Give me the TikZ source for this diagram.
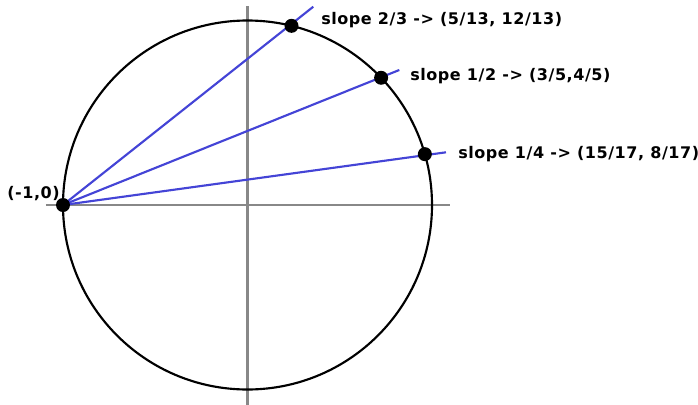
\documentclass[tikz,border=0pt]{standalone}
\usepackage{fontspec}
\newfontfamily\lblfont[LetterSpace=3.5]{DejaVu Sans Bold}
\usetikzlibrary{calc,backgrounds}

\definecolor{chordblue}{RGB}{68,68,214}
\definecolor{axisgray}{RGB}{136,136,136}

\begin{document}
\begin{tikzpicture}[x=0.75pt, y=0.75pt,
    axisln/.style={draw=axisgray, line width=1.7pt},
    chord/.style={draw=chordblue, line width=1.6pt},
    pt/.style={circle, fill=black, inner sep=0pt, minimum size=10.5pt},
    lbl/.style={font=\lblfont\fontsize{12pt}{14pt}\selectfont, inner sep=0pt, anchor=west}
]
\useasboundingbox (-247.5,-199) rectangle (450.5,205);

% points on the circle
\coordinate (O) at (0,0);
\node[pt] (m) at (180:184.5) {};
\node[pt] (a) at (76.2:184.5) {};
\node[pt] (b) at (43.6:184.5) {};
\node[pt] (c) at (16.0:184.5) {};

% axis ends and free ends of the lines
\coordinate (xl) at (-201.5,0);
\coordinate (xr) at (202.5,0);
\coordinate (yb) at (0,-200);
\coordinate (yt) at (0,199);
\coordinate (ea) at (65.8,198.3);
\coordinate (eb) at (151.8,135);
\coordinate (ec) at (198.5,52.7);

\begin{scope}[on background layer]
\draw[axisln] (xl) -- (xr);
\draw[axisln] (yb) -- (yt);
\draw[line width=1.6pt] (O) circle (184.5);
\draw[chord] (m.center) -- (ea);
\draw[chord] (m.center) -- (eb);
\draw[chord] (m.center) -- (ec);
\end{scope}

% labels
\node[lbl] (la) at (73.5,185) {slope 2/3 -> (5/13, 12/13)};
\node[lbl] (lb) at (162.5,129) {slope 1/2 -> (3/5,4/5)};
\node[lbl] (lc) at (210.5,51) {slope 1/4 -> (15/17, 8/17)};
\node[lbl] (lm) at (-240.5,11) {(-1,0)};
\end{tikzpicture}
\end{document}
